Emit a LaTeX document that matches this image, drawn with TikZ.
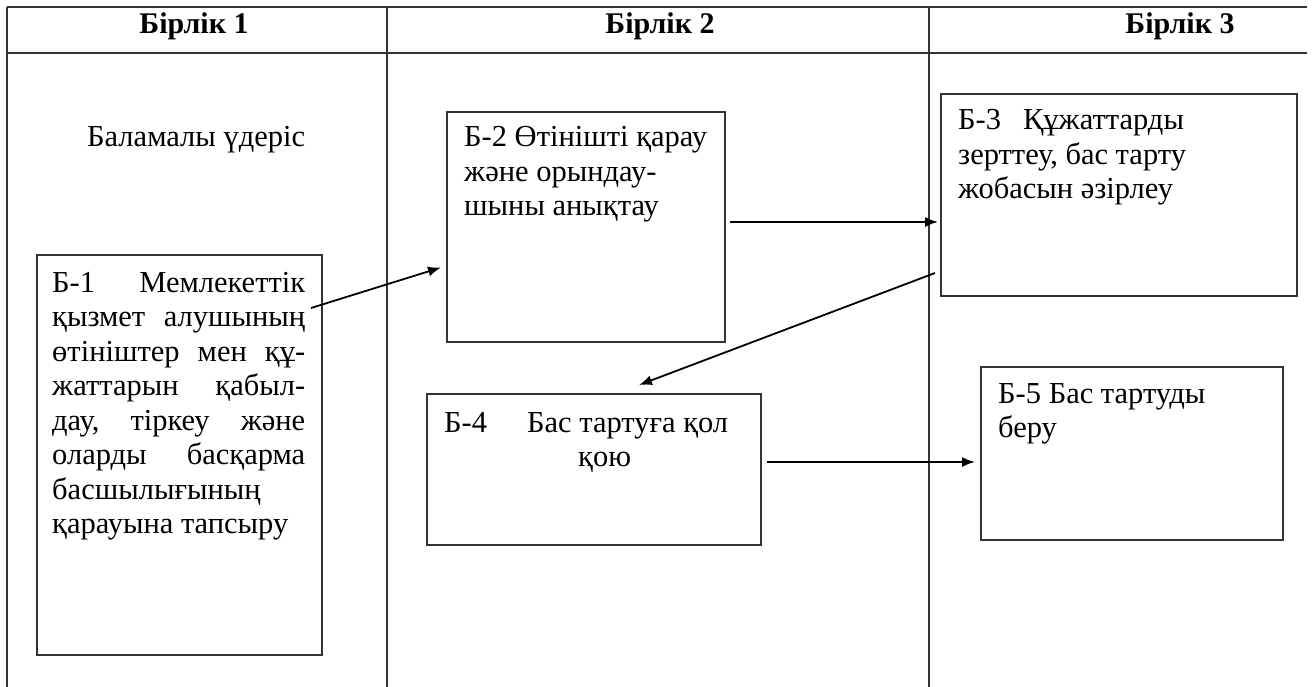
\documentclass[tikz,border=0pt]{standalone}
\usepackage{fontspec}
\setmainfont{Liberation Serif}
\usetikzlibrary{arrows.meta}
\begin{document}
\begin{tikzpicture}[x=1pt,y=-1pt,
  grid/.style={line width=2.2pt,draw=black!80},
  box/.style={draw=black!80,line width=2pt,rectangle,inner sep=0pt,minimum width=#1},
  txt/.style={anchor=base west,inner sep=0pt,align=flush left,font=\fontsize{30.5}{34.5}\selectfont},
  head/.style={anchor=base,inner sep=0pt,font=\fontsize{30}{34}\selectfont\bfseries},
  arr/.style={line width=1.8pt,-{Latex[length=13pt,width=10pt]}}]
\useasboundingbox (0,0) rectangle (1313,687);
% table
\draw[grid] (7,7) -- (1307,7);
\draw[grid] (7,53) -- (1307,53);
\draw[grid] (7,7) -- (7,687);
\draw[grid] (387,7) -- (387,687);
\draw[grid] (929,7) -- (929,687);
\node[head] (h1) at (194,34) {Бірлік 1};
\node[head] (h2) at (660,34) {Бірлік 2};
\node[head] (h3) at (1180,34) {Бірлік 3};
\node[txt] (alt) at (87,147) {Баламалы үдеріс};
% boxes
\node[box=285pt,minimum height=400pt] (b1) at (179.5,455) {};
\node[box=278pt,minimum height=230pt] (b2) at (586,227) {};
\node[box=356pt,minimum height=202pt] (b3) at (1119,195) {};
\node[box=334pt,minimum height=151pt] (b4) at (594,469.5) {};
\node[box=302pt,minimum height=173pt] (b5) at (1132,453.5) {};
% texts
\node[txt,align=left,text width=253pt] (t1) at (52,292) {%
Б-1\hfill Мемлекеттік\\
қызмет\hfill алушының\\
өтініштер\hfill мен\hfill құ-\\
жаттарын\hfill қабыл-\\
дау,\hfill тіркеу\hfill және\\
оларды\hfill басқарма\\
басшылығының\\
қарауына\hspace{7.6pt}тапсыру};
\node[txt,text width=255pt] (t2) at (464,147) {Б-2 Өтінішті қарау\\және орындау-\\шыны анықтау};
\node[txt,text width=320pt] (t3) at (958,130) {Б-3\hspace{22pt}Құжаттарды\\зерттеу, бас тарту\\жобасын әзірлеу};
\node[txt,text width=300pt] (t4) at (444,432) {Б-4\hspace{40pt}Бас тартуға қол\\\hspace*{134pt}қою};
\node[txt,text width=280pt] (t5) at (998,403) {Б-5 Бас тартуды\\беру};
% connectors
\coordinate (a1s) at (311,308);
\coordinate (a1e) at (441,267.5);
\coordinate (a2s) at (730,222);
\coordinate (a2e) at (938,222);
\coordinate (a3s) at (935,273);
\coordinate (a3e) at (639,385);
\coordinate (a4s) at (767,462);
\coordinate (a4e) at (975,462);
\draw[arr] (a1s) -- (a1e);
\draw[arr] (a2s) -- (a2e);
\draw[arr] (a3s) -- (a3e);
\draw[arr] (a4s) -- (a4e);
\end{tikzpicture}
\end{document}
